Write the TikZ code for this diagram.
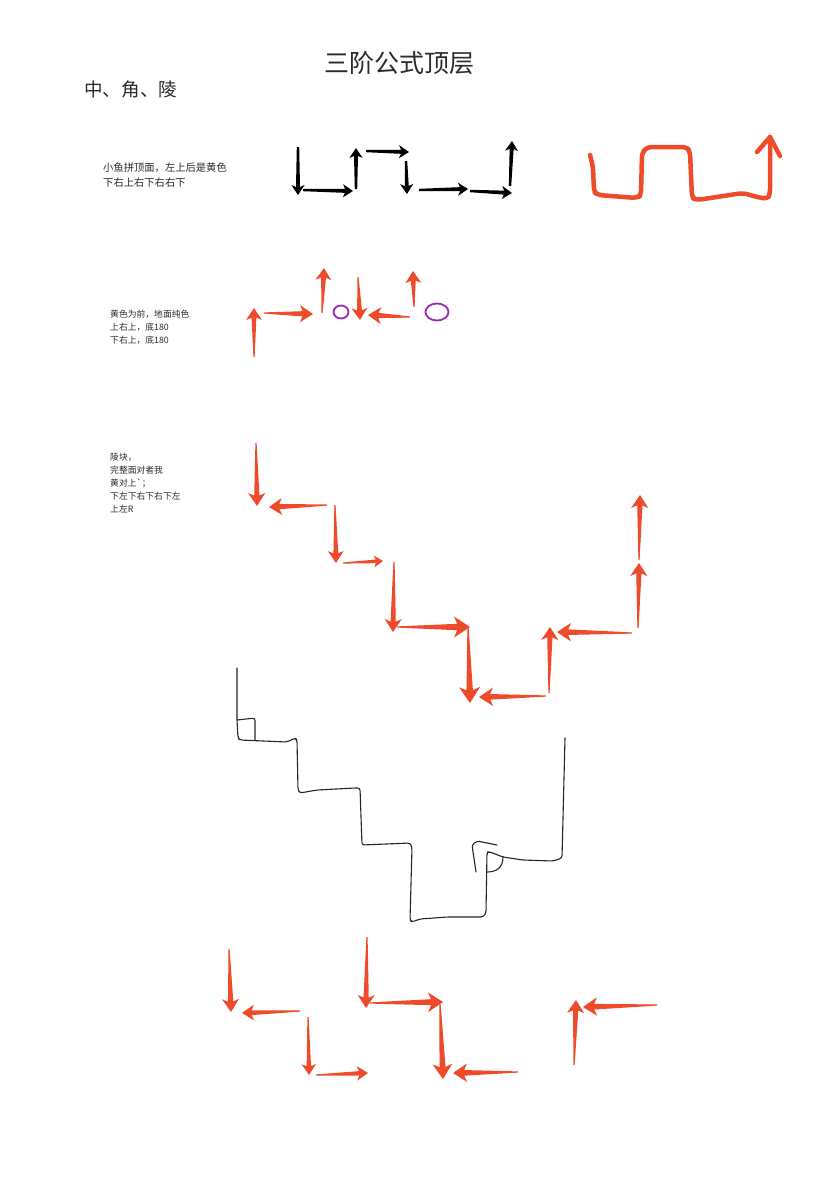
\documentclass[tikz,border=0pt]{standalone}
\usepackage{fontspec}
\newfontfamily\cjk{Noto Sans CJK SC}
\usepackage{tikz}
\usetikzlibrary{calc}
\definecolor{oraRed}{HTML}{EF4A2A}
\definecolor{oraPurple}{HTML}{9B2BB3}
\definecolor{oraText}{HTML}{2B2B2B}
\tikzset{
  nota/.style={anchor=north west, inner sep=0pt, align=left, text=oraText, font=\cjk\fontsize{8.8}{13}\selectfont},
  trazo/.style={draw=black!85, line width=1.1pt, rounded corners=2.5pt, line cap=round, line join=round},
  pincel/.style={draw=oraRed, line width=4.5pt, rounded corners=4pt, line cap=round, line join=round},
  anillo/.style={draw=oraPurple, line width=1.8pt},
}
% tapered arrow: [colour]{tail}{tip}{head length}{tail half width}
\newcommand{\flecha}[5][oraRed]{%
  \coordinate (fa) at #2;
  \coordinate (fb) at #3;
  \coordinate (fw) at ($(fb)!#4!(fa)$);
  \coordinate (fn) at ($(fb)!0.8*#4!(fa)$);
  \fill[#1] ($(fa)!#5!90:(fb)$) -- ($(fn)!0.2*#4!90:(fb)$) -- ($(fw)!0.66*#4!90:(fb)$) -- (fb)
    -- ($(fw)!0.66*#4!-90:(fb)$) -- ($(fn)!0.2*#4!-90:(fb)$) -- ($(fa)!#5!-90:(fb)$) -- cycle;
}
\begin{document}
\begin{tikzpicture}[x=1pt, y=-1pt]
\useasboundingbox[fill=white] (0,0) rectangle (839,1191);

% headings
\node[text=oraText, font=\cjk\fontsize{25}{25}\selectfont] (title) at (399,63) {三阶公式顶层};
\node[anchor=west, inner sep=0pt, text=oraText, font=\cjk\fontsize{18.6}{20}\selectfont] (sub) at (84,89) {中、角、陵};

% notes
\node[nota, font=\cjk\fontsize{10.3}{15}\selectfont] (n1) at (103,163) {小鱼拼顶面，左上后是黄色\\下右上右下右右下};
\node[nota] (n2) at (110,309.6) {黄色为前，地面纯色\\上右上，底180\\下右上，底180};
\node[nota] (n3) at (110,452.6) {陵块，\\完整面对者我\\黄对上`；\\下左下右下右下左\\上左R};

% black arrows
\foreach \xa/\ya/\xb/\yb in {298/147/298/195, 303/190/353/191, 356/189/356/148, 366/151/409/152,
    406/161/407/194, 419/190/468/189, 470/191/512/193, 510/186/512/141}
  \flecha[black]{(\xa,\ya)}{(\xb,\yb)}{10pt}{1.2pt};

% red sketch
\draw[pincel] (590,155) -- (593,167) -- (594,192) -- (598,195) -- (637,198) -- (641,195) -- (642,153)
  -- (647,147) -- (687,147) -- (690,152) -- (692,198) -- (697,200) -- (743,193) -- (757,197)
  -- (768,199) -- (770,193) -- (770,137);
\draw[pincel, rounded corners=0pt] (757,152) -- (770,137) -- (780,156);

% second row
\foreach \xa/\ya/\xb/\yb/\h in {254/357/254/308/12, 264/313/313/314/13, 322/313/324/268/12,
    358/277/360/320/12, 410/317/368/315/13, 414/307/413/271/12}
  \flecha{(\xa,\ya)}{(\xb,\yb)}{\h pt}{0.6pt};
\draw[anillo] (341,312) ellipse [x radius=7.5pt, y radius=6.5pt];
\draw[anillo] (437,312) ellipse [x radius=11.5pt, y radius=8.5pt];

% third row
\foreach \xa/\ya/\xb/\yb/\h in {256/443/257/506/13, 327/505/269/507/13, 335/505/336/563/12,
    343/563/383/561/9, 394/562/393/632/13, 397/627/470/627/16, 468/627/470/703/16,
    546/696/479/697/14, 549/693/550/627/13, 632/633/557/632/14, 638/628/639/563/13,
    639/560/640/495/13}
  \flecha{(\xa,\ya)}{(\xb,\yb)}{\h pt}{0.6pt};

% staircase
\draw[trazo] (237,668) -- (237,720) -- (238,738) -- (240,740) -- (287,742) -- (295,738) -- (297,740)
  -- (298,790) -- (300,793) -- (317,790) -- (355,788) -- (360,788) -- (362,845) -- (410,843)
  -- (412,847) -- (410,920) -- (412,922) -- (420,919) -- (447,917) -- (483,917) -- (486,913)
  -- (487,852) -- (490,852) -- (503,857) -- (523,860) -- (553,861) -- (562,858) -- (565,738);
\draw[trazo] (237,720) -- (255,718) -- (255,740);
\draw[trazo] (476,872) -- (472,845) -- (477,841) -- (497,845);
\draw[trazo, rounded corners=0pt] (503,857) .. controls (503,868) and (496,872) .. (487,872);

% bottom row
\foreach \xa/\ya/\xb/\yb/\h in {229/949/231/1012/13, 300/1011/242/1013/12, 308/1017/309/1075/11,
    316/1075/368/1073/11, 367/937/366/1008/13, 370/1003/443/1002/15, 440/1004/443/1079/15,
    518/1072/453/1073/14, 574/1065/576/1000/13, 657/1005/583/1007/14}
  \flecha{(\xa,\ya)}{(\xb,\yb)}{\h pt}{0.6pt};
\end{tikzpicture}
\end{document}
